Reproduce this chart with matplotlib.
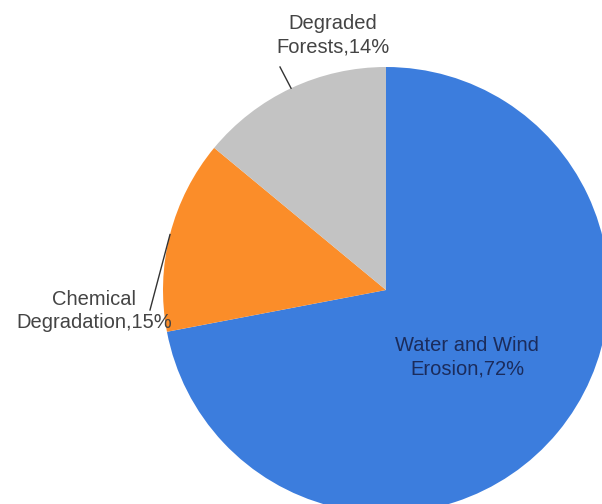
"""Pie chart: causes of land degradation."""

import numpy as np
import matplotlib
matplotlib.use('Agg')
import matplotlib.pyplot as plt

plt.rcParams['font.family'] = ['Liberation Sans', 'DejaVu Sans']

categories = ["Water and Wind\nErosion", "Chemical\nDegradation", "Degraded\nForests"]
values = [72, 14, 14]
pct_text = ["72%", "15%", "14%"]
colors = ['#3c7ddd', '#fb8d29', '#c3c3c3']

W, H = 602, 504


def main():
    fig = plt.figure(figsize=(W / 100, H / 100), dpi=100)
    ax = fig.add_axes([0, 0, 1, 1])

    cx, cy, r = 386, H - 290, 223
    wedges, _ = ax.pie(values, colors=colors, startangle=90, counterclock=False,
                       center=(cx, cy), radius=r, wedgeprops=dict(linewidth=0))

    labels = [f"{c},{p}" for c, p in zip(categories, pct_text)]

    # inside label for the big slice
    ax.text(467, H - 357, labels[0], ha='center', va='center', fontsize=14.5,
            color='#1b2c5c', linespacing=1.3)

    # outside labels with leader lines to slice midpoints
    outside = {1: ((94, H - 311), (150, H - 310)),
               2: ((333, H - 35), (280, H - 67))}
    for i, (txt_xy, line_start) in outside.items():
        w = wedges[i]
        mid = np.deg2rad((w.theta1 + w.theta2) / 2)
        ex, ey = cx + r * np.cos(mid), cy + r * np.sin(mid)
        ax.plot([line_start[0], ex], [line_start[1], ey], color='#333333', lw=1)
        ax.text(*txt_xy, labels[i], ha='center', va='center', fontsize=14.5,
                color='#444444', linespacing=1.3)

    ax.set_xlim(0, W)
    ax.set_ylim(0, H)
    ax.set_aspect('equal')
    ax.axis('off')

    fig.savefig('out.png', dpi=100, facecolor='white')


if __name__ == "__main__":
    main()
